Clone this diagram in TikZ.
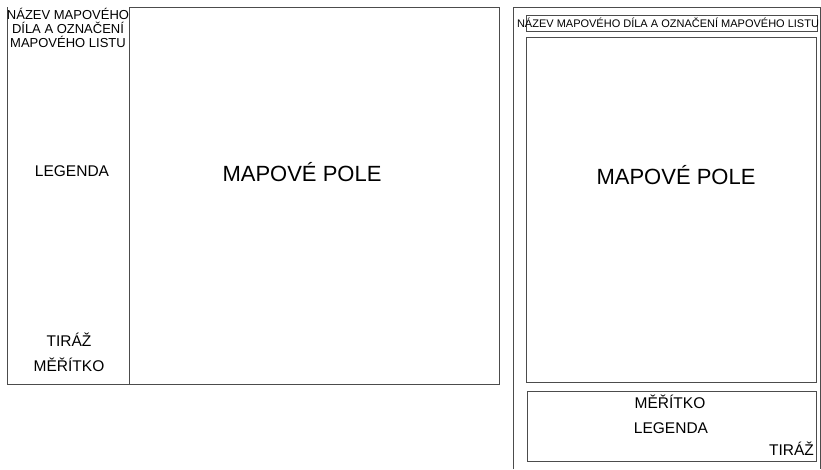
\documentclass[tikz,border=0pt]{standalone}
\usepackage{fontspec}
\setmainfont{Liberation Sans}
\begin{document}
\begin{tikzpicture}[x=1pt, y=-1pt,
        frame/.style={draw=black!70, line width=0.9pt},
        label/.style={inner sep=0pt, anchor=base, font=\fontsize{15.5}{17}\selectfont},
        big/.style={inner sep=0pt, anchor=base, font=\fontsize{22}{24}\selectfont}]
        % Fix the page size
        \useasboundingbox (0,0) rectangle (821,469);
        % Draw the landscape layout
        \draw[frame] (7,7) -- (7,384) -- (499,384) -- (499,7) -- (129,7);
        \draw[frame] (129,7) -- (129,384);
        \node[inner sep=0pt, anchor=north, align=center, font=\fontsize{13}{13.7}\selectfont] (titleL) at (68,8.5) {NÁZEV MAPOVÉHO\\DÍLA A OZNAČENÍ\\MAPOVÉHO LISTU};
        \node[label] (legendL) at (72,176.5) {LEGENDA};
        \node[label] (tirazL) at (69,346.5) {TIRÁŽ};
        \node[label] (meritkoL) at (69,371.5) {MĚŘÍTKO};
        \node[big] (mapL) at (302,181) {MAPOVÉ POLE};
        % Draw the portrait layout
        \draw[frame] (513,469) -- (513,7) -- (820,7) -- (820,469);
        \draw[frame] (526,15) rectangle (817,31);
        \draw[frame] (526,37) rectangle (816,382);
        \draw[frame] (527,391) rectangle (816,461);
        \node[inner sep=0pt, anchor=base, font=\fontsize{11}{12}\selectfont] (titleR) at (668,27) {NÁZEV MAPOVÉHO DÍLA A OZNAČENÍ MAPOVÉHO LISTU};
        \node[big] (mapR) at (676,184) {MAPOVÉ POLE};
        \node[label] (meritkoR) at (670,408.5) {MĚŘÍTKO};
        \node[label] (legendR) at (671,433.5) {LEGENDA};
        \node[label, anchor=base east] (tirazR) at (814,455.5) {TIRÁŽ};
    \end{tikzpicture}
\end{document}
